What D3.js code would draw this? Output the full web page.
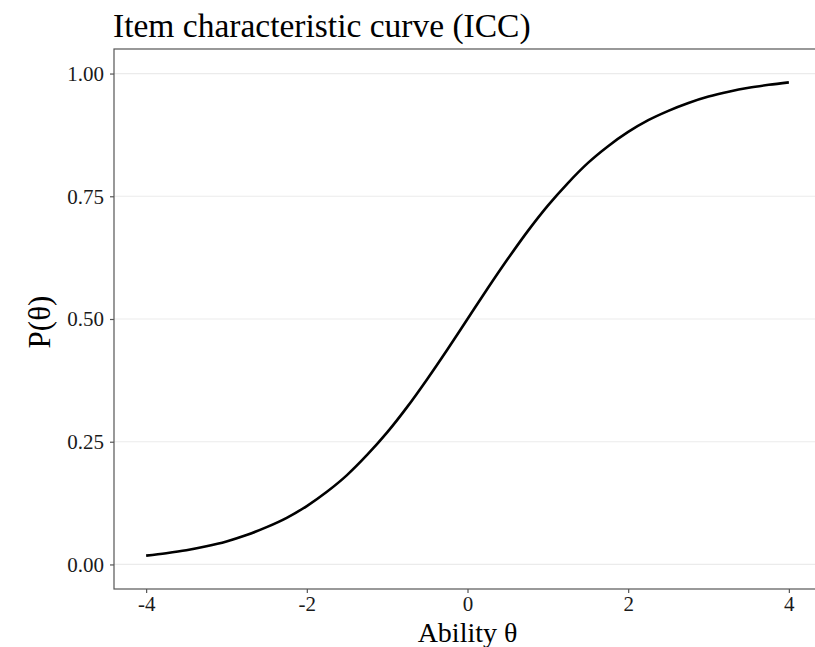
<!DOCTYPE html>
<html>
<head>
<meta charset="utf-8">
<script src="https://cdn.jsdelivr.net/npm/d3@7"></script>
<style>
  body { margin: 0; background: #fff; }
  svg text { font-family: "Liberation Serif", "Times New Roman", serif; }
</style>
</head>
<body>
<svg id="viz" width="815" height="647"></svg>
<script>
// data
var theta = [-4, -3.75, -3.5, -3.25, -3, -2.75, -2.5, -2.25, -2, -1.75, -1.5, -1.25, -1, -0.75, -0.5, -0.25,
  0, 0.25, 0.5, 0.75, 1, 1.25, 1.5, 1.75, 2, 2.25, 2.5, 2.75, 3, 3.25, 3.5, 3.75, 4];
var prob = [0.018, 0.023, 0.029, 0.037, 0.047, 0.060, 0.076, 0.095, 0.119, 0.148, 0.182, 0.223, 0.269, 0.321, 0.378, 0.438,
  0.5, 0.562, 0.622, 0.679, 0.731, 0.777, 0.818, 0.852, 0.881, 0.905, 0.924, 0.940, 0.953, 0.963, 0.971, 0.977, 0.982];
var xTicks = [-4, -2, 0, 2, 4];
var yTicks = [0, 0.25, 0.5, 0.75, 1];

var margin = { top: 49, left: 114, bottom: 58 };
var width = 707; // panel runs past the right edge
var height = 647 - margin.top - margin.bottom;

var svg = d3.select('#viz');
var g = svg.append('g').attr('transform', 'translate(' + margin.left + ',' + margin.top + ')');

// ggplot style 5% expansion
var x = d3.scaleLinear().domain([-4.4, 4.4]).range([0, width]);
var y = d3.scaleLinear().domain([-0.05, 1.05]).range([height, 0]);

// horizontal grid only
g.selectAll('.grid')
  .data(yTicks)
  .join('line')
  .attr('class', 'grid')
  .attr('x1', 0)
  .attr('x2', width)
  .attr('y1', (d) => y(d))
  .attr('y2', (d) => y(d))
  .attr('stroke', '#ebebeb')
  .attr('stroke-width', 1.2);

// curve
var line = d3.line()
  .x((d, i) => x(theta[i]))
  .y((d) => y(d))
  .curve(d3.curveMonotoneX);

g.append('path')
  .datum(prob)
  .attr('d', line)
  .attr('fill', 'none')
  .attr('stroke', '#000')
  .attr('stroke-width', 2.6);

// panel border
g.append('rect')
  .attr('x', 0)
  .attr('y', 0)
  .attr('width', width)
  .attr('height', height)
  .attr('fill', 'none')
  .attr('stroke', '#555')
  .attr('stroke-width', 1.2);

// axes
var xAxis = g.append('g')
  .attr('transform', 'translate(0,' + height + ')')
  .call(d3.axisBottom(x).tickValues(xTicks).tickSize(4).tickPadding(3).tickFormat(d3.format('d')));
var yAxis = g.append('g')
  .call(d3.axisLeft(y).tickValues(yTicks).tickSize(4).tickPadding(6).tickFormat(d3.format('.2f')));

[xAxis, yAxis].forEach(function (a) {
  a.select('.domain').remove();
  a.selectAll('.tick line').attr('stroke', '#555').attr('stroke-width', 1.2);
  a.selectAll('.tick text')
    .attr('fill', '#1a1a1a')
    .style('font-size', '21px')
    .style('font-family', '"Liberation Serif", serif');
});
xAxis.selectAll('.tick text').text((d) => (d < 0 ? '-' + Math.abs(d) : d));

// labels
svg.append('text')
  .attr('x', 113)
  .attr('y', 37)
  .style('font-size', '33.5px')
  .attr('fill', '#000')
  .text('Item characteristic curve (ICC)');

svg.append('text')
  .attr('x', margin.left + x(0))
  .attr('y', 642)
  .attr('text-anchor', 'middle')
  .style('font-size', '28px')
  .attr('fill', '#000')
  .text('Ability θ');

svg.append('text')
  .attr('transform', 'translate(50,' + (margin.top + y(0.5) + 3) + ') rotate(-90)')
  .attr('text-anchor', 'middle')
  .style('font-size', '31px')
  .attr('fill', '#000')
  .text('P(θ)');
</script>
</body>
</html>
